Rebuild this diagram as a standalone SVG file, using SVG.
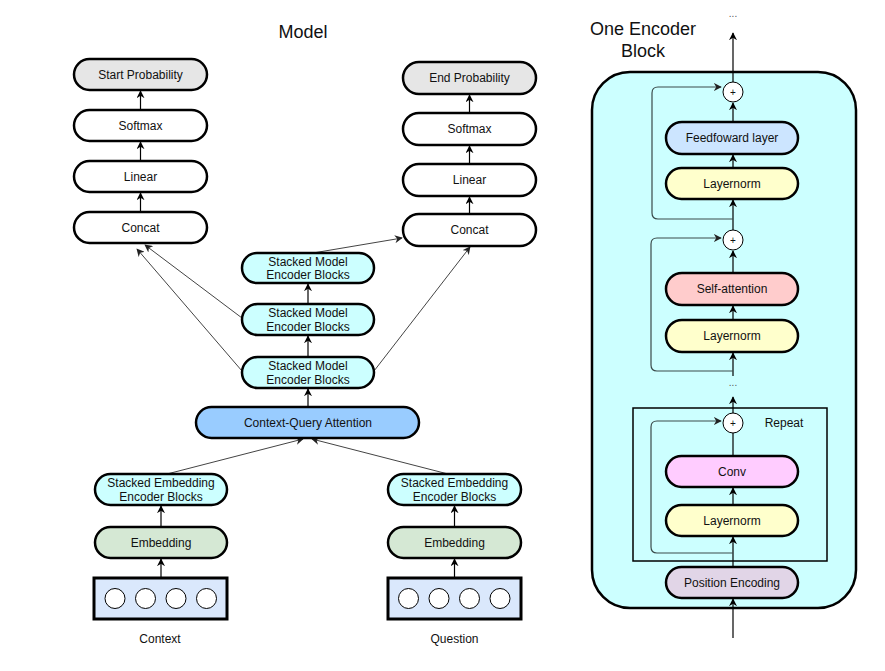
<svg xmlns="http://www.w3.org/2000/svg" width="885" height="671" viewBox="0 0 885 671">
<defs>
<marker id="arr" viewBox="0 0 10 10" refX="9" refY="5" markerWidth="8" markerHeight="8" markerUnits="userSpaceOnUse" orient="auto">
<path d="M0,0 L10,5 L0,10 L3,5 Z" fill="#000"/>
</marker>
<marker id="arrg" viewBox="0 0 10 10" refX="9" refY="5" markerWidth="8" markerHeight="8" markerUnits="userSpaceOnUse" orient="auto">
<path d="M0,0 L10,5 L0,10 L3,5 Z" fill="#222"/>
</marker>
</defs>
<style>
text{font-family:"Liberation Sans",Arial,sans-serif;font-size:12px;fill:#111;text-anchor:middle;dominant-baseline:central}
.n{stroke:#000;stroke-width:2.5}
.w{fill:#fff}.g{fill:#e6e6e6}.c{fill:#ccffff}.cqa{fill:#99ccff}.emb{fill:#d5e8d4}.inp{fill:#dae8fc}
.ff{fill:#cce5ff}.ln{fill:#ffffcc}.sa{fill:#ffcccc}.cv{fill:#ffccff}.pe{fill:#e1d5e7}
.e{stroke:#000;stroke-width:1.2;fill:none;marker-end:url(#arr)}
.d{stroke:#444;stroke-width:1;fill:none;marker-end:url(#arrg)}
.s{stroke:#3a4a4a;stroke-width:1.2;fill:none;marker-end:url(#arrg)}
.t{font-size:18px}
.dots{font-size:10px;fill:#555}
</style>
<rect width="885" height="671" fill="#fff"/>
<text class="t" x="303" y="32">Model</text>
<text class="t" x="643" y="29">One Encoder</text>
<text class="t" x="643" y="51">Block</text>

<g id="encoder-block">
<rect x="592" y="72" width="264" height="536" rx="38" fill="#ccffff" stroke="#000" stroke-width="2.5"/>
</g>
<g id="repeat-box">
<rect x="633" y="408" width="194" height="153" fill="none" stroke="#000" stroke-width="1.5"/>
<text x="784" y="423">Repeat</text>
</g>

<g id="connectors">
<!-- left head -->
<line class="e" x1="140.5" y1="110" x2="140.5" y2="91"/>
<line class="e" x1="140.5" y1="161" x2="140.5" y2="142"/>
<line class="e" x1="140.5" y1="212" x2="140.5" y2="193"/>
<!-- right head -->
<line class="e" x1="469.5" y1="113" x2="469.5" y2="95"/>
<line class="e" x1="469.5" y1="164" x2="469.5" y2="146"/>
<line class="e" x1="469.5" y1="214" x2="469.5" y2="197"/>
<!-- stacked model -->
<line class="e" x1="308" y1="407" x2="308" y2="389"/>
<line class="e" x1="308" y1="357" x2="308" y2="336"/>
<line class="e" x1="308" y1="304" x2="308" y2="284"/>
<line class="d" x1="313" y1="253" x2="402" y2="238"/>
<line class="d" x1="242" y1="318" x2="145" y2="245"/>
<line class="d" x1="242" y1="371" x2="137" y2="249"/>
<line class="d" x1="374" y1="371" x2="470" y2="247"/>
<!-- embeddings -->
<line class="d" x1="167" y1="474" x2="303" y2="439"/>
<line class="d" x1="448" y1="474" x2="312" y2="439"/>
<line class="e" x1="161" y1="527" x2="161" y2="506"/>
<line class="e" x1="161" y1="577" x2="161" y2="559"/>
<line class="e" x1="454.5" y1="527" x2="454.5" y2="506"/>
<line class="e" x1="454.5" y1="577" x2="454.5" y2="559"/>
<!-- encoder block -->
<line class="e" x1="733" y1="638" x2="733" y2="599"/>
<line class="e" x1="733" y1="567" x2="733" y2="537"/>
<line class="e" x1="733" y1="505" x2="733" y2="488"/>
<line stroke="#000" stroke-width="1.2" x1="733" y1="456" x2="733" y2="433"/>
<line class="e" x1="733" y1="413" x2="733" y2="397"/>
<line class="e" x1="733" y1="376" x2="733" y2="353"/>
<line class="e" x1="733" y1="320" x2="733" y2="306"/>
<line class="e" x1="733" y1="273" x2="733" y2="251"/>
<line class="e" x1="733" y1="230" x2="733" y2="200"/>
<line class="e" x1="733" y1="168" x2="733" y2="155"/>
<line class="e" x1="733" y1="122" x2="733" y2="103"/>
<line class="e" x1="733" y1="82" x2="733" y2="33"/>
<path class="s" d="M733,219 H658 Q652,219 652,213 V93 Q652,87 658,87 H721"/>
<path class="s" d="M733,371 H657 Q651,371 651,365 V244 Q651,238 657,238 H721"/>
<path class="s" d="M733,553 H657 Q651,553 651,547 V427 Q651,421 657,421 H721"/>
<text class="dots" x="733" y="13">...</text>
<text class="dots" x="733" y="382">...</text>
</g>

<g id="start-probability"><rect class="n g" x="74" y="59" width="133" height="31" rx="15.5"/><text x="140.5" y="74.5">Start Probability</text></g>
<g id="softmax-left"><rect class="n w" x="74" y="110" width="133" height="31" rx="15.5"/><text x="140.5" y="125.5">Softmax</text></g>
<g id="linear-left"><rect class="n w" x="74" y="161" width="133" height="31" rx="15.5"/><text x="140.5" y="176.5">Linear</text></g>
<g id="concat-left"><rect class="n w" x="74" y="212" width="133" height="31" rx="15.5"/><text x="140.5" y="227.5">Concat</text></g>

<g id="end-probability"><rect class="n g" x="403" y="62" width="133" height="32" rx="16"/><text x="469.5" y="78">End Probability</text></g>
<g id="softmax-right"><rect class="n w" x="403" y="113" width="133" height="32" rx="16"/><text x="469.5" y="129">Softmax</text></g>
<g id="linear-right"><rect class="n w" x="403" y="164" width="133" height="32" rx="16"/><text x="469.5" y="180">Linear</text></g>
<g id="concat-right"><rect class="n w" x="403" y="214" width="133" height="32" rx="16"/><text x="469.5" y="230">Concat</text></g>

<g id="stacked-model-3"><rect class="n c" x="242" y="253" width="132" height="30" rx="15"/><text x="308" y="261.5">Stacked Model</text><text x="308" y="275">Encoder Blocks</text></g>
<g id="stacked-model-2"><rect class="n c" x="242" y="304" width="132" height="31" rx="15.5"/><text x="308" y="312.5">Stacked Model</text><text x="308" y="326.5">Encoder Blocks</text></g>
<g id="stacked-model-1"><rect class="n c" x="242" y="357" width="132" height="31" rx="15.5"/><text x="308" y="366">Stacked Model</text><text x="308" y="380">Encoder Blocks</text></g>

<g id="context-query-attention"><rect class="n cqa" x="196" y="407" width="223" height="31" rx="15.5"/><text x="308" y="422.5">Context-Query Attention</text></g>

<g id="stacked-embedding-left"><rect class="n c" x="95" y="474" width="132" height="31" rx="15.5"/><text x="161" y="483">Stacked Embedding</text><text x="161" y="497">Encoder Blocks</text></g>
<g id="stacked-embedding-right"><rect class="n c" x="388" y="474" width="133" height="31" rx="15.5"/><text x="454.5" y="483">Stacked Embedding</text><text x="454.5" y="497">Encoder Blocks</text></g>

<g id="embedding-left"><rect class="n emb" x="95" y="527" width="132" height="31" rx="15.5"/><text x="161" y="542.5">Embedding</text></g>
<g id="embedding-right"><rect class="n emb" x="388" y="527" width="133" height="31" rx="15.5"/><text x="454.5" y="542.5">Embedding</text></g>

<g id="context-input">
<rect class="inp" x="94" y="578" width="133" height="41" stroke="#000" stroke-width="3"/>
<circle cx="115" cy="598.5" r="10" fill="#fff" stroke="#000" stroke-width="1"/>
<circle cx="145.5" cy="598.5" r="10" fill="#fff" stroke="#000" stroke-width="1"/>
<circle cx="176" cy="598.5" r="10" fill="#fff" stroke="#000" stroke-width="1"/>
<circle cx="206.5" cy="598.5" r="10" fill="#fff" stroke="#000" stroke-width="1"/>
<text x="160" y="639">Context</text>
</g>
<g id="question-input">
<rect class="inp" x="388" y="578" width="133" height="41" stroke="#000" stroke-width="3"/>
<circle cx="408.5" cy="598.5" r="10" fill="#fff" stroke="#000" stroke-width="1"/>
<circle cx="439" cy="598.5" r="10" fill="#fff" stroke="#000" stroke-width="1"/>
<circle cx="469.5" cy="598.5" r="10" fill="#fff" stroke="#000" stroke-width="1"/>
<circle cx="500" cy="598.5" r="10" fill="#fff" stroke="#000" stroke-width="1"/>
<text x="454.5" y="639">Question</text>
</g>

<g id="plus-top"><circle cx="733" cy="92" r="10" fill="#fff" stroke="#000"/><text x="733" y="92" style="font-size:10px">+</text></g>
<g id="feedforward"><rect class="n ff" x="666" y="122" width="132" height="32" rx="16"/><text x="732" y="138">Feedfoward layer</text></g>
<g id="layernorm-1"><rect class="n ln" x="666" y="168" width="132" height="31" rx="15.5"/><text x="732" y="183.5">Layernorm</text></g>
<g id="plus-mid"><circle cx="733" cy="240" r="10" fill="#fff" stroke="#000"/><text x="733" y="240" style="font-size:10px">+</text></g>
<g id="self-attention"><rect class="n sa" x="666" y="273" width="132" height="32" rx="16"/><text x="732" y="289">Self-attention</text></g>
<g id="layernorm-2"><rect class="n ln" x="666" y="320" width="132" height="32" rx="16"/><text x="732" y="336">Layernorm</text></g>
<g id="plus-repeat"><circle cx="733" cy="423" r="10" fill="#fff" stroke="#000"/><text x="733" y="423" style="font-size:10px">+</text></g>
<g id="conv"><rect class="n cv" x="666" y="456" width="132" height="31" rx="15.5"/><text x="732" y="471.5">Conv</text></g>
<g id="layernorm-3"><rect class="n ln" x="666" y="505" width="132" height="31" rx="15.5"/><text x="732" y="520.5">Layernorm</text></g>
<g id="position-encoding"><rect class="n pe" x="666" y="567" width="132" height="31" rx="15.5"/><text x="732" y="582.5">Position Encoding</text></g>
</svg>
